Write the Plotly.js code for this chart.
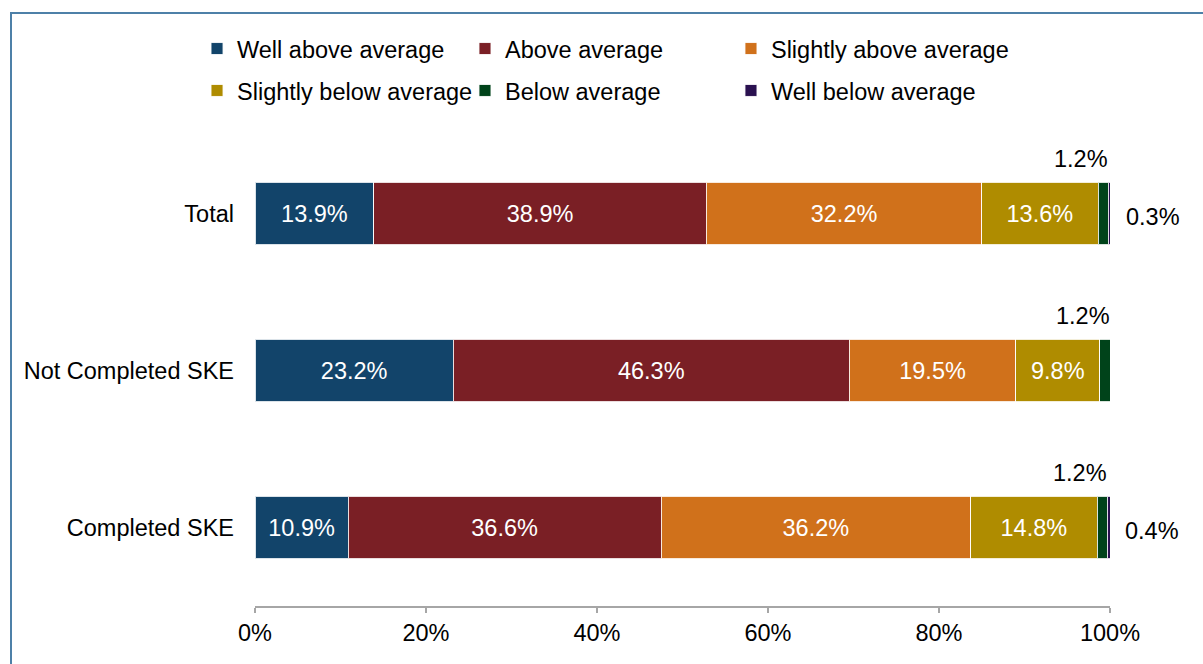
<!DOCTYPE html>
<html>
<head>
<meta charset="utf-8">
<script src="https://cdn.plot.ly/plotly-3.0.1.min.js"></script>
<style>
  html, body { margin: 0; padding: 0; background: #fff; overflow: hidden; }
  #chart { width: 1203px; height: 664px; position: absolute; left: 0; top: 0; }
  #frame { position: absolute; left: 10px; top: 12px; width: 1400px; height: 900px;
           border: 2px solid #4d80a8; pointer-events: none; }
</style>
</head>
<body>
<div id="chart"></div>
<div id="frame"></div>
<script>
// ---- data ----
const categories = ["Total", "Not Completed SKE", "Completed SKE"];
const seriesNames = ["Well above average", "Above average", "Slightly above average",
                     "Slightly below average", "Below average", "Well below average"];
const wellAbove     = [13.9, 23.2, 10.9];
const above         = [38.9, 46.3, 36.6];
const slightlyAbove = [32.2, 19.5, 36.2];
const slightlyBelow = [13.6, 9.8, 14.8];
const below         = [1.2, 1.2, 1.2];
const wellBelow     = [0.3, 0.0, 0.4];
const xTickVals  = [0, 20, 40, 60, 80, 100];
const xTickText  = ["0%", "20%", "40%", "60%", "80%", "100%"];

const seriesValues = [wellAbove, above, slightlyAbove, slightlyBelow, below, wellBelow];
const colors = ["#12446a", "#7a1f25", "#d0711b", "#af8c00", "#00431a", "#2a1150"];
const FONT = '"Liberation Sans", Arial, sans-serif';
const FS = 23.5;

const legendIds = ["legend", "legend2", "legend3", "legend4", "legend5", "legend6"];

const traces = seriesValues.map((vals, i) => ({
  type: "bar",
  orientation: "h",
  name: seriesNames[i],
  y: categories,
  x: vals,
  width: 0.4,
  marker: { color: colors[i], line: { color: "rgba(255,255,255,0.85)", width: 1 } },
  texttemplate: i < 4 ? "%{x:.1f}%" : "",
  textposition: i < 4 ? "inside" : "none",
  insidetextanchor: "middle",
  constraintext: "none",
  textfont: { color: "#ffffff", size: FS, family: FONT },
  hoverinfo: "name+x",
  legend: legendIds[i]
}));

// outside labels for the small segments
const annotations = [];
categories.forEach((c, k) => {
  const endBelow = wellAbove[k] + above[k] + slightlyAbove[k] + slightlyBelow[k] + below[k];
  annotations.push({
    x: endBelow, y: c, xref: "x", yref: "y",
    text: below[k].toFixed(1) + "%", showarrow: false,
    xanchor: "right", yanchor: "middle", xshift: 2, yshift: 55,
    font: { size: FS, color: "#000", family: FONT }
  });
  if (wellBelow[k] > 0) {
    annotations.push({
      x: endBelow, y: c, xref: "x", yref: "y",
      text: wellBelow[k].toFixed(1) + "%", showarrow: false,
      xanchor: "left", yanchor: "middle", xshift: 16, yshift: -3,
      font: { size: FS, color: "#000", family: FONT }
    });
  }
});

// legend layout: 3 columns x 2 rows
const legendX = [-0.0678, 0.2456, 0.5567];
const legendY = [1.2298, 1.1408];
const layout = {
  width: 1203, height: 664,
  margin: { l: 255, r: 93, t: 134.5, b: 58 },
  paper_bgcolor: "#ffffff", plot_bgcolor: "#ffffff",
  font: { family: FONT, size: FS, color: "#000" },
  barmode: "stack",
  showlegend: true,
  xaxis: {
    range: [0, 100], tickvals: xTickVals, ticktext: xTickText,
    showgrid: false, zeroline: false,
    showline: true, linecolor: "#a6a6a6", linewidth: 1.5,
    ticks: "outside", ticklen: 5, tickcolor: "#a6a6a6", tickwidth: 1.5,
    tickfont: { size: FS, color: "#000", family: FONT }
  },
  yaxis: {
    type: "category", categoryorder: "array", categoryarray: categories,
    range: [2.5, -0.5], showgrid: false, zeroline: false, showline: false,
    ticks: "", ticklabelstandoff: 20,
    tickfont: { size: FS, color: "#000", family: FONT }
  },
  annotations: annotations
};
legendIds.forEach((id, i) => {
  layout[id] = {
    x: legendX[i % 3], y: legendY[Math.floor(i / 3)],
    xanchor: "left", yanchor: "top", orientation: "v",
    font: { size: FS, color: "#000", family: FONT },
    bgcolor: "rgba(0,0,0,0)", borderwidth: 0
  };
});

Plotly.newPlot("chart", traces, layout, { displayModeBar: false, staticPlot: true });
</script>
</body>
</html>
